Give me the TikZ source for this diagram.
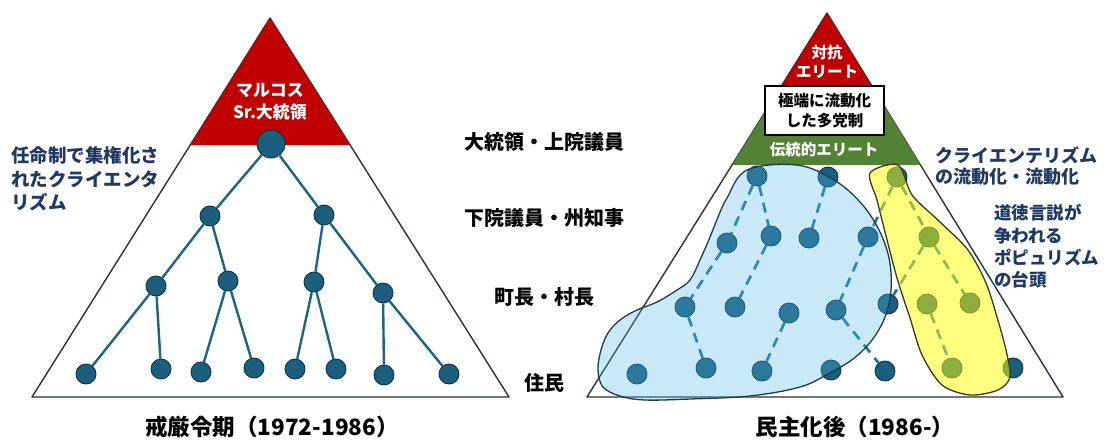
\documentclass[tikz,border=0pt]{standalone}
\usepackage{fontspec}
\setmainfont{Noto Sans CJK JP}
\definecolor{triline}{HTML}{25333D}
\definecolor{redtop}{HTML}{C00000}
\definecolor{greenband}{HTML}{548235}
\definecolor{navy}{HTML}{1F3864}
\definecolor{dotfill}{HTML}{1C5E7E}
\definecolor{dotline}{HTML}{0F3447}
\definecolor{edgecol}{HTML}{1F6384}
\definecolor{blobover}{HTML}{52B9E8}
\definecolor{blobline}{HTML}{203A4A}
\definecolor{dashcol}{HTML}{1976A3}
\definecolor{yel}{HTML}{FFFF00}
\definecolor{yelline}{HTML}{3A3A1A}
\begin{document}
\begin{tikzpicture}[x=1pt,y=-1pt,
  tri/.style={draw=triline, line width=1.4pt, line join=round},
  dot/.style={circle, fill=dotfill, draw=dotline, line width=0.9pt, minimum size=20pt, inner sep=0pt},
  bigdot/.style={dot, minimum size=28pt},
  treeedge/.style={draw=edgecol, line width=2.4pt},
  dashedge/.style={draw=dashcol, line width=2.7pt, dash pattern=on 10pt off 7pt},
  lvl/.style={font=\fontsize{20}{24}\selectfont\bfseries, text=black, inner sep=0pt},
  captxt/.style={font=\fontsize{22.5}{26}\selectfont\bfseries, text=black, inner sep=0pt},
  bluetxt/.style={text=navy, align=left, inner sep=0pt},
  whitetxt/.style={text=white, align=center, inner sep=0pt}
]
\useasboundingbox (0,0) rectangle (1108,439);
\fill[white] (0,0) rectangle (1108,439);

% ---------- left pyramid ----------
\draw[tri] (270,18) -- (32,397) -- (509,397) -- cycle;
\fill[redtop] (270,18) -- (190.3,145) -- (350,145) -- cycle;
\node[whitetxt, font=\fontsize{17}{22}\selectfont\bfseries] (marcos) at (270,102) {マルコス\\Sr.大統領};

\node[bigdot] (root) at (271,144) {};
\node[dot] (a1) at (210,216) {};
\node[dot] (a2) at (324,215) {};
\node[dot] (b1) at (156,286) {};
\node[dot] (b2) at (228,281) {};
\node[dot] (b3) at (314,282) {};
\node[dot] (b4) at (383,293) {};
\node[dot] (c1) at (86,374) {};
\node[dot] (c2) at (161,369) {};
\node[dot] (c3) at (201,372) {};
\node[dot] (c4) at (254,368) {};
\node[dot] (c5) at (295,369) {};
\node[dot] (c6) at (336,369) {};
\node[dot] (c7) at (384,375) {};
\node[dot] (c8) at (449,374) {};
\draw[treeedge] (root) -- (a1);
\draw[treeedge] (root) -- (a2);
\draw[treeedge] (a1) -- (b1);
\draw[treeedge] (a1) -- (b2);
\draw[treeedge] (a2) -- (b3);
\draw[treeedge] (a2) -- (b4);
\draw[treeedge] (b1) -- (c1);
\draw[treeedge] (b1) -- (c2);
\draw[treeedge] (b2) -- (c3);
\draw[treeedge] (b2) -- (c4);
\draw[treeedge] (b3) -- (c5);
\draw[treeedge] (b3) -- (c6);
\draw[treeedge] (b4) -- (c7);
\draw[treeedge] (b4) -- (c8);

\node[bluetxt, anchor=west, font=\fontsize{18.5}{23.5}\selectfont\bfseries] (lefttxt) at (11,179) {任命制で集権化さ\\れたクライエンタ\\リズム};
\node[captxt] (capL) at (272,427) {戒厳令期（1972-1986）};

% ---------- middle labels ----------
\node[lvl] (l1) at (544,142) {大統領・上院議員};
\node[lvl] (l2) at (544,218) {下院議員・州知事};
\node[lvl] (l3) at (544,297) {町長・村長};
\node[lvl] (l4) at (544,383) {住民};

% ---------- right pyramid ----------
\draw[tri] (827,13) -- (587,397) -- (1063,397) -- cycle;
\fill[redtop] (827,13) -- (781.4,86) -- (871.9,86) -- cycle;
\fill[greenband] (781.4,86) -- (871.9,86) -- (920.5,165) -- (732,165) -- cycle;
\node[whitetxt, font=\fontsize{15.5}{19}\selectfont\bfseries] (opp) at (827,61.5) {対抗\\エリート};
\node[draw=black, fill=white, line width=1.2pt, minimum width=119pt, minimum height=49pt,
  align=center, inner sep=0pt, font=\fontsize{15.5}{20}\selectfont\bfseries] (box) at (824.5,110.5) {極端に流動化\\した多党制};
\node[whitetxt, font=\fontsize{15.5}{19}\selectfont\bfseries] (trad) at (824,150) {伝統的エリート};

% dots
\node[dot] (T1) at (757,176) {};
\node[dot] (T2) at (828,177) {};
\node[dot] (T3) at (897,177) {};
\node[dot] (R2a) at (727,243) {};
\node[dot] (R2b) at (771,236) {};
\node[dot] (R2c) at (809,238) {};
\node[dot] (R2d) at (868,237) {};
\node[dot] (R2e) at (929,237) {};
\node[dot] (R3a) at (685,307) {};
\node[dot] (R3b) at (735,307) {};
\node[dot] (R3c) at (789,313) {};
\node[dot] (R3d) at (836,310) {};
\node[dot] (R3e) at (888,304) {};
\node[dot] (R3f) at (927,304) {};
\node[dot] (R3g) at (970,303) {};
\node[dot] (R4a) at (637,374) {};
\node[dot] (R4b) at (706,368) {};
\node[dot] (R4c) at (762,371) {};
\node[dot] (R4d) at (831,370) {};
\node[dot] (R4e) at (885,371) {};
\node[dot] (R4f) at (952,368) {};
\node[dot] (R4g) at (1013,368) {};

\draw[dashedge] (T1) -- (R2a);
\draw[dashedge] (T1) -- (R2b);
\draw[dashedge] (T2) -- (R2c);
\draw[dashedge] (T3) -- (R2d);
\draw[dashedge] (T3) -- (R2e);
\draw[dashedge] (R2a) -- (R3a);
\draw[dashedge] (R2b) -- (R3b);
\draw[dashedge] (R2d) -- (R3d);
\draw[dashedge] (R2e) -- (R3e);
\draw[dashedge] (R2e) -- (R3g);
\draw[dashedge] (R3a) -- (R4b);
\draw[dashedge] (R3c) -- (R4c);
\draw[dashedge] (R3d) -- (R4e);
\draw[dashedge] (R3f) -- (R4f);

% overlays
\draw[draw=blobline, line width=1.3pt, fill=blobover, fill opacity=0.3] plot[smooth cycle, tension=0.6] coordinates {
 (747,170) (797,165) (834,180) (860,202) (878,228) (889,258) (891,290) (885,317)
 (872,340) (853,359) (828,374) (800,387) (750,396) (690,399) (645,400) (620,396)
 (603,387) (598,370) (601,350) (608,333) (620,320) (637,310) (657,302) (677,290)
 (690,280) (700,260) (710,237) (718,217) (727,198)};
\draw[draw=yelline, line width=1.3pt, fill=yel, fill opacity=0.5] plot[smooth cycle, tension=0.5] coordinates {
 (870,173) (898,165) (912,195) (940,222) (968,250) (986,283) (997,317) (1006,350)
 (1010,377) (998,390) (970,395) (942,385) (922,355) (910,318) (897,278) (884,228) (877,200)};

\node[bluetxt, anchor=west, font=\fontsize{18}{21.5}\selectfont\bfseries] (righttxt1) at (935,166) {クライエンテリズム\\の流動化・流動化};
\node[bluetxt, anchor=west, font=\fontsize{17.5}{22.3}\selectfont\bfseries] (righttxt2) at (994,246.5) {道徳言説が\\争われる\\ポピュリズム\\の台頭};
\node[captxt] (capR) at (855,427) {民主化後（1986-）};
\end{tikzpicture}
\end{document}
